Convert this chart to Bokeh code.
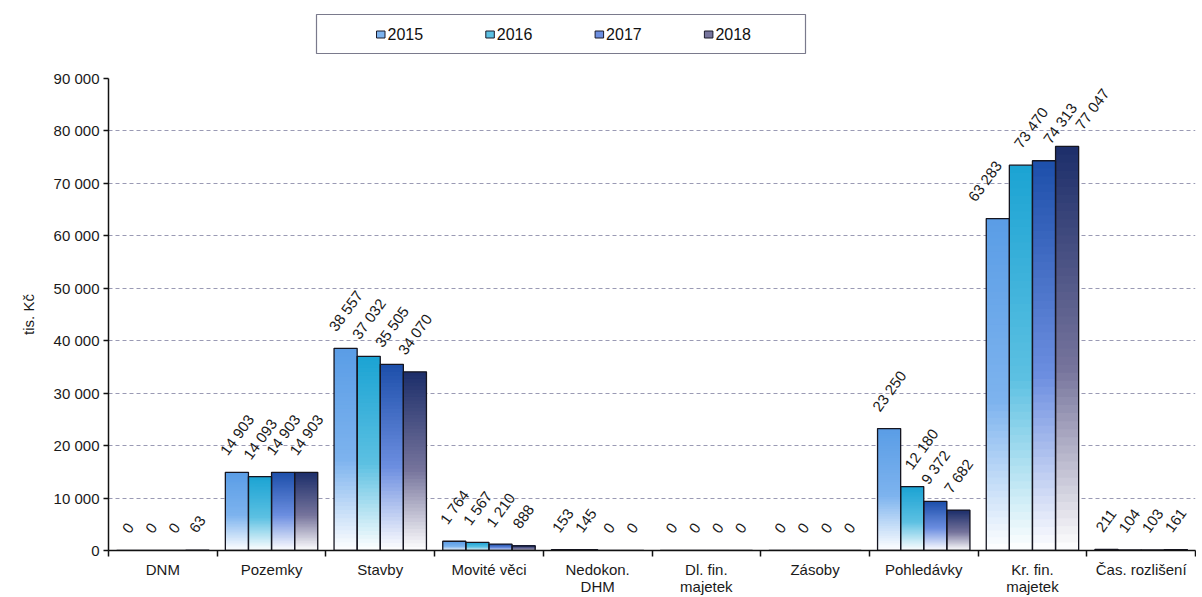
import math
from bokeh.plotting import figure
from bokeh.layouts import column
from bokeh.models import Range1d, FixedTicker, ColumnDataSource
from bokeh.core.properties import value
from bokeh.embed import file_html
from bokeh.resources import INLINE

# ---------------- data ----------------
categories = ["DNM", "Pozemky", "Stavby", "Movité věci", "Nedokon.\nDHM",
              "Dl. fin.\nmajetek", "Zásoby", "Pohledávky", "Kr. fin.\nmajetek",
              "Čas. rozlišení"]
years = ["2015", "2016", "2017", "2018"]
v2015 = [0, 14903, 38557, 1764, 153, 0, 0, 23250, 63283, 211]
v2016 = [0, 14093, 37032, 1567, 145, 0, 0, 12180, 73470, 104]
v2017 = [0, 14903, 35505, 1210, 0, 0, 0, 9372, 74313, 103]
v2018 = [63, 14903, 34070, 888, 0, 0, 0, 7682, 77047, 161]
series = [v2015, v2016, v2017, v2018]
y_ticks = [0, 10000, 20000, 30000, 40000, 50000, 60000, 70000, 80000, 90000]
y_label = "tis. Kč"

# ---------------- style ----------------
FONT = "Liberation Sans"
top_colors = ["#5A9DE6", "#1BA3D3", "#1D4FAA", "#1C2E6A"]
mid_colors = ["#7DB3EE", "#5CC0E2", "#6C8EE0", "#76749C"]
label_nudge = {(8, 0): -13, (8, 1): 10, (8, 2): 16, (8, 3): 25, (7, 1): 9}

def hex2rgb(h):
    h = h.lstrip("#")
    return tuple(int(h[i:i + 2], 16) for i in (0, 2, 4))

def mix(c1, c2, f):
    return "#%02x%02x%02x" % tuple(int(round(a + (b - a) * f)) for a, b in zip(c1, c2))

def grad_color(s, t):
    white = (255, 255, 255)
    mid = hex2rgb(mid_colors[s])
    top = hex2rgb(top_colors[s])
    if t < 0.45:
        return mix(white, mid, t / 0.45)
    return mix(mid, top, (t - 0.45) / 0.55)

def fmt(v):
    return f"{v:,}".replace(",", " ")

def text_w(s, size):
    return sum(0.278 if ch == " " else 0.556 for ch in s) * size

W = 1196
LEFT = 108
RIGHT_B = 1
FRAME_R = W - RIGHT_B
LEG_H = 68
n = len(categories)
bar_w = 0.2125

# ---------------- legend figure (coordinates in page pixels) ----------------
lg = figure(width=W, height=LEG_H, x_range=Range1d(LEFT, FRAME_R),
            y_range=Range1d(LEG_H, 0),
            x_axis_type=None, y_axis_type=None, toolbar_location=None,
            output_backend="svg", min_border=0, min_border_left=LEFT,
            min_border_right=RIGHT_B)
lg.grid.visible = False
lg.outline_line_color = None
lg.quad(left=[316], right=[805], top=[14], bottom=[53], fill_color=None,
        line_color="#7a7a8c", line_width=1.2)
for s, yr in enumerate(years):
    x0 = 376 + s * 109.3
    lg.quad(left=[x0], right=[x0 + 8.5], top=[30.5], bottom=[37.5],
            fill_color=mid_colors[s], line_color="#1a1a2a", line_width=1)
    lg.text(x=[x0 + 11], y=[33.5], text=[yr], text_font=value(FONT),
            text_font_size="16px", text_baseline="middle", text_align="left",
            text_color="#111111")

# ---------------- main figure ----------------
p = figure(width=W, height=597 - LEG_H, x_range=Range1d(0, n),
           y_range=Range1d(0, 90000),
           toolbar_location=None, output_backend="svg",
           min_border_left=LEFT, min_border_right=RIGHT_B, min_border_top=10,
           min_border_bottom=45)
p.outline_line_color = None
p.xgrid.visible = False
p.ygrid.ticker = FixedTicker(ticks=y_ticks[1:-1])
p.ygrid.grid_line_color = "#9a9ab4"
p.ygrid.grid_line_dash = "4 3"
p.ygrid.grid_line_width = 1

# gradient bars (thin overlapping slices)
N = 50
ov = 250.0
gx, gt, gb, gc = [], [], [], []
for s, vals in enumerate(series):
    for i, v in enumerate(vals):
        xc = i + 0.5 + (s - 1.5) * bar_w
        for k in range(N):
            gx.append(xc)
            gb.append(v * k / N)
            gt.append(min(v, v * (k + 1) / N + ov))
            gc.append(grad_color(s, (k + 0.5) / N))
p.vbar(x=gx, width=bar_w, top=gt, bottom=gb, fill_color=gc, line_color=None)

# outlines
ox, otop = [], []
for s, vals in enumerate(series):
    for i, v in enumerate(vals):
        ox.append(i + 0.5 + (s - 1.5) * bar_w)
        otop.append(v)
p.vbar(x=ox, width=bar_w, top=otop, bottom=0, fill_color=None,
       line_color="#151520", line_width=1.3)

# data labels
ang = math.radians(54)
lx, ly, lt, lxo = [], [], [], []
for s, vals in enumerate(series):
    for i, v in enumerate(vals):
        t = fmt(v)
        lx.append(i + 0.5 + (s - 1.5) * bar_w)
        ly.append(v)
        lt.append(t)
        lxo.append(-text_w(t, 15) / 2 * math.cos(ang) + label_nudge.get((i, s), 0))
src = ColumnDataSource(dict(x=lx, y=ly, text=lt, xo=lxo))
p.text(x="x", y="y", text="text", source=src, x_offset="xo", y_offset=-19,
       angle=ang, text_align="left", text_baseline="middle",
       text_font=value(FONT), text_font_size="15px", text_color="#1a1a1a")

# x axis
xa = p.xaxis[0]
xa.ticker = FixedTicker(ticks=[i + 0.5 for i in range(n)],
                        minor_ticks=list(range(n + 1)))
xa.major_label_overrides = {i + 0.5: c for i, c in enumerate(categories)}
xa.major_tick_line_color = None
xa.major_tick_out = 0
xa.major_tick_in = 0
xa.minor_tick_out = 6
xa.minor_tick_in = 0
xa.minor_tick_line_color = "#111111"
xa.minor_tick_line_width = 1.5
xa.axis_line_color = "#111111"
xa.axis_line_width = 1.5
xa.major_label_text_font = FONT
xa.major_label_text_font_size = "15px"
xa.major_label_text_color = "#1a1a1a"
xa.major_label_text_line_height = 1.0
xa.major_label_standoff = 4

# y axis
ya = p.yaxis[0]
ya.ticker = FixedTicker(ticks=y_ticks, minor_ticks=[])
ya.major_label_overrides = {t: fmt(t) for t in y_ticks}
ya.major_tick_out = 5
ya.major_tick_in = 0
ya.major_tick_line_color = "#111111"
ya.major_tick_line_width = 1.5
ya.minor_tick_line_color = None
ya.axis_line_color = "#111111"
ya.axis_line_width = 1.5
ya.major_label_text_font = FONT
ya.major_label_text_font_size = "15px"
ya.major_label_text_color = "#1a1a1a"
ya.major_label_standoff = 4
ya.axis_label = y_label
ya.axis_label_text_font = FONT
ya.axis_label_text_font_size = "15px"
ya.axis_label_text_font_style = "normal"
ya.axis_label_text_color = "#1a1a1a"
ya.axis_label_standoff = 14

layout = column(lg, p)
open("out.html", "w").write(file_html(layout, INLINE))
